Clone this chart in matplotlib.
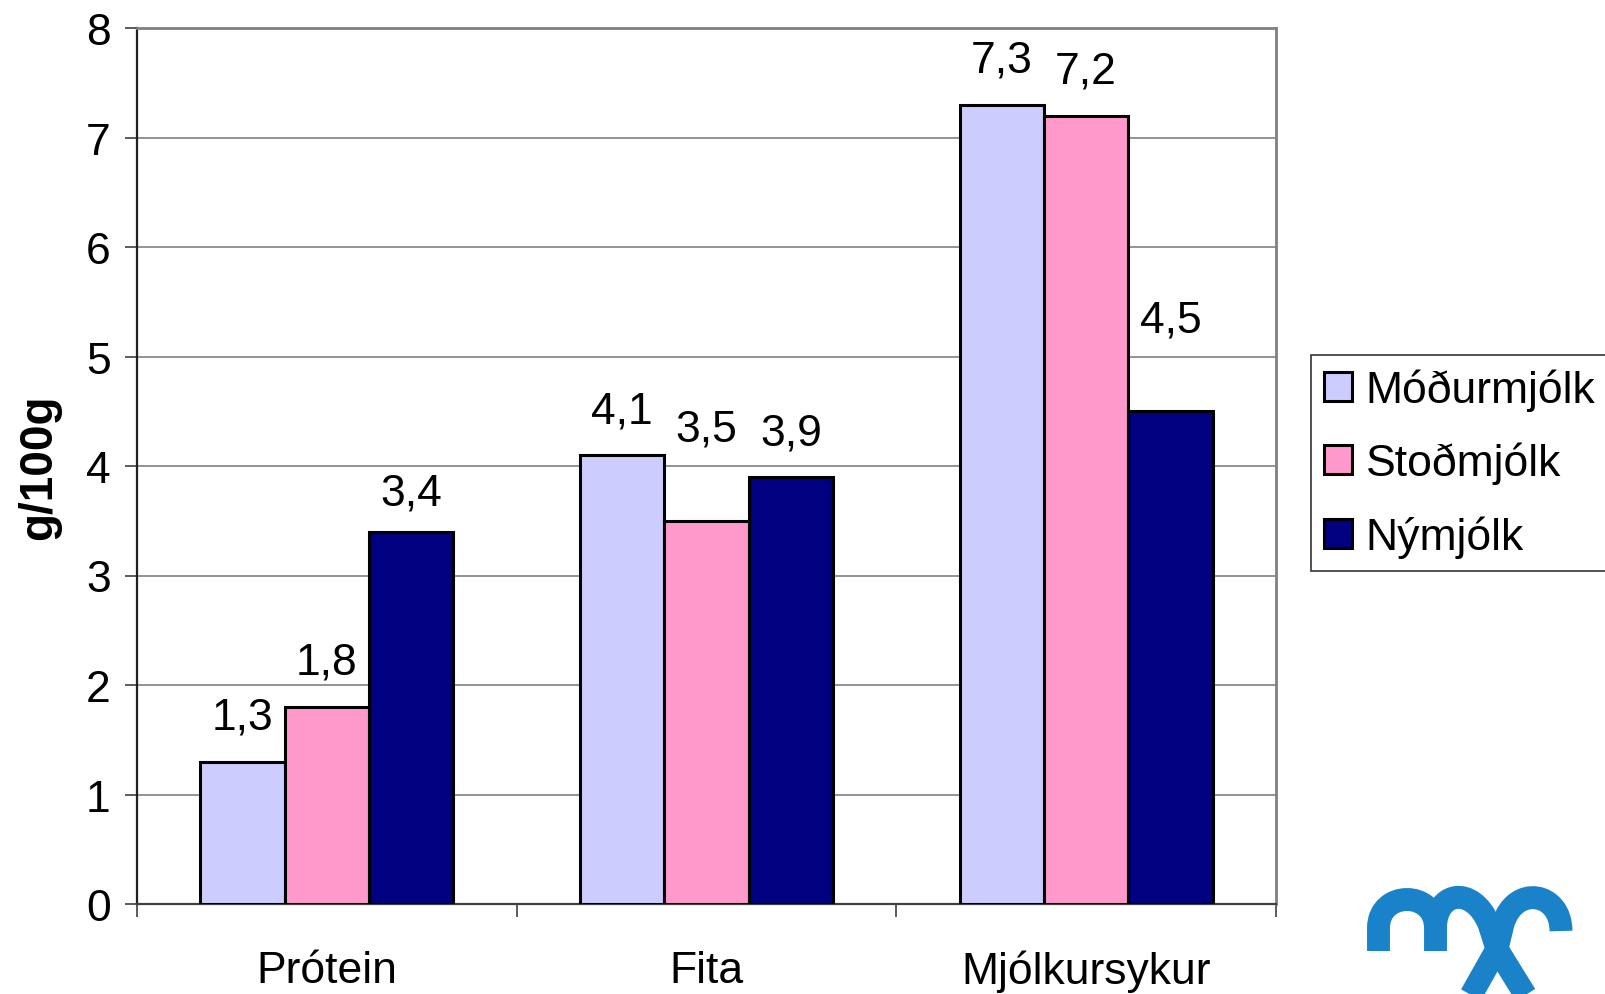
import matplotlib
matplotlib.use("Agg")
import matplotlib.pyplot as plt
import numpy as np
from matplotlib.path import Path
from matplotlib.patches import PathPatch

plt.rcParams['font.family'] = ['Liberation Sans', 'DejaVu Sans']

categories = ["Prótein", "Fita", "Mjólkursykur"]
series_names = ["Móðurmjólk", "Stoðmjólk", "Nýmjólk"]
modurmjolk = [1.3, 4.1, 7.3]
stodmjolk = [1.8, 3.5, 7.2]
nymjolk = [3.4, 3.9, 4.5]
colors = ["#CCCCFF", "#FF99CC", "#000080"]
y_ticks = [0, 1, 2, 3, 4, 5, 6, 7, 8]
y_label = "g/100g"
# label offsets (points above bar top), per series / category
label_offsets = [[32, 32, 32], [32, 66, 32], [28, 32, 66]]

W, H = 1606, 995
fig = plt.figure(figsize=(W / 100, H / 100), dpi=100)
ax = fig.add_axes([137 / W, 1 - 905 / H, (1276 - 137) / W, (905 - 29) / H])

series = [modurmjolk, stodmjolk, nymjolk]
x = np.arange(len(categories))
bw = 1 / 4.5
for i, (vals, name, c) in enumerate(zip(series, series_names, colors)):
    pos = x + (i - 1) * bw
    ax.bar(pos, vals, width=bw, color=c, edgecolor="black", linewidth=2.2,
           label=name, zorder=3)
    for j, (p, v) in enumerate(zip(pos, vals)):
        ax.annotate(f"{v:.1f}".replace(".", ","), (p, v),
                    xytext=(0, label_offsets[i][j]),
                    textcoords="offset points", ha="center", va="center",
                    fontsize=32)

ax.set_xlim(-0.5, 2.5)
ax.set_ylim(0, 8)
ax.set_yticks(y_ticks)
ax.set_yticklabels([str(t) for t in y_ticks], fontsize=32)
ax.yaxis.grid(True, color="#808080", linewidth=1.2, zorder=0)
ax.set_axisbelow(True)
ax.tick_params(axis="y", direction="out", length=9, width=1.2, color="#404040", pad=10)
ax.set_xticks([-0.5, 0.5, 1.5, 2.5])
ax.set_xticklabels([])
ax.tick_params(axis="x", direction="out", length=9, width=1.2, color="#404040")
ax.set_xticks(x, minor=True)
ax.set_xticklabels(categories, minor=True, fontsize=32)
ax.tick_params(axis="x", which="minor", length=0, pad=33)

for s in ["top", "right"]:
    ax.spines[s].set_color("#808080")
    ax.spines[s].set_linewidth(2)
ax.spines["left"].set_color("#202020")
ax.spines["left"].set_linewidth(1.6)
ax.spines["bottom"].set_color("#404040")
ax.spines["bottom"].set_linewidth(1.6)

ax.set_ylabel(y_label, fontsize=33, fontweight="bold", labelpad=18)

leg = fig.legend(loc="upper left", bbox_to_anchor=(1311 / W, 1 - 356 / H),
                 bbox_transform=fig.transFigure, fontsize=32, frameon=True,
                 fancybox=False, edgecolor="black", borderaxespad=0,
                 handlelength=0.63, handleheight=0.63, handletextpad=0.3,
                 labelspacing=0.7, borderpad=0.3)
leg.get_frame().set_linewidth(1.2)

# logo
def P(px, py):
    return (px / W, 1 - py / H)

blue = "#1A82C8"
paths = [
    [(1378.5, 952), (1378.5, 929), (1378.5, 891), (1435.5, 891), (1435.5, 929), (1435.5, 952)],
    [(1435.5, 929), (1435.5, 893), (1472, 885), (1489, 925), (1497, 950), (1531, 1005)],
    [(1561, 932), (1561, 893), (1515, 885), (1503, 925), (1497, 950), (1466, 1005)],
]
codes_list = [
    [Path.MOVETO, Path.LINETO, Path.CURVE4, Path.CURVE4, Path.CURVE4, Path.LINETO],
    [Path.MOVETO, Path.CURVE4, Path.CURVE4, Path.CURVE4, Path.LINETO, Path.LINETO],
    [Path.MOVETO, Path.CURVE4, Path.CURVE4, Path.CURVE4, Path.LINETO, Path.LINETO],
]
for pts, codes in zip(paths, codes_list):
    pth = Path([P(*p) for p in pts], codes)
    patch = PathPatch(pth, transform=fig.transFigure, facecolor="none",
                      edgecolor=blue, linewidth=16.5, capstyle="butt", joinstyle="round")
    fig.add_artist(patch)

fig.savefig("out.png", dpi=100)
